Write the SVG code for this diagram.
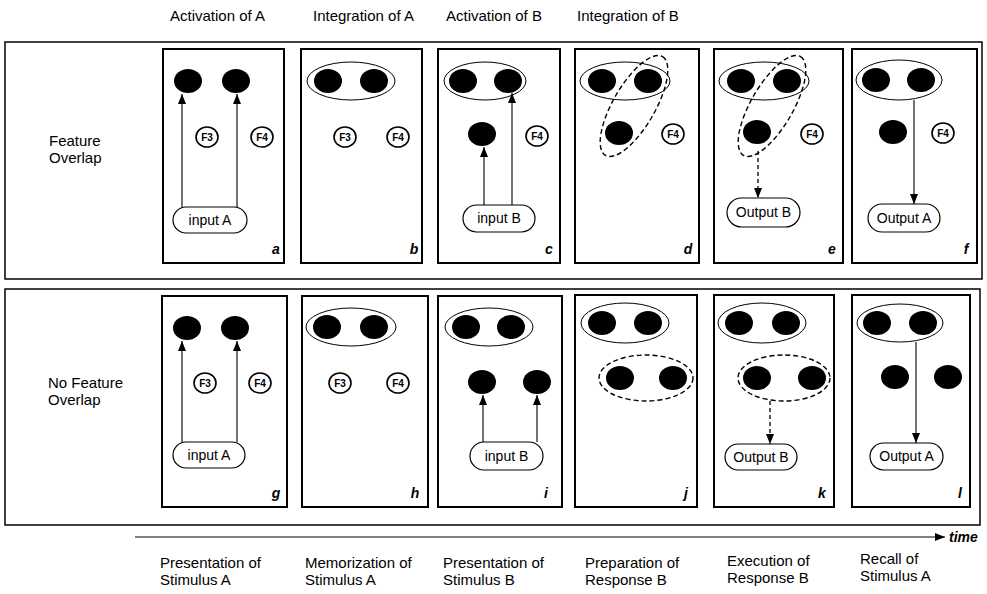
<svg xmlns="http://www.w3.org/2000/svg" width="987" height="594" viewBox="0 0 987 594">
<style>
.frame{fill:none;stroke:#000;stroke-width:1.5}
.panel{fill:#fff;stroke:#000;stroke-width:2}
.dot{fill:#000}
.grp{fill:none;stroke:#000;stroke-width:1}
.dgrp{fill:none;stroke:#000;stroke-width:1.4;stroke-dasharray:5 3}
.feat{fill:#fff;stroke:#000;stroke-width:1.6}
.ftxt{font-family:"Liberation Sans",Arial,sans-serif;font-weight:bold;font-size:10px;text-anchor:middle}
.pill{fill:#fff;stroke:#000;stroke-width:1.2}
.ptxt{font-family:"Liberation Sans",Arial,sans-serif;font-size:14px;text-anchor:middle}
.lbl{font-family:"Liberation Sans",Arial,sans-serif;font-weight:bold;font-style:italic;font-size:14px;text-anchor:middle}
.hdr{font-family:"Liberation Sans",Arial,sans-serif;font-size:15px}
.edge{fill:none;stroke:#000;stroke-width:1.1;marker-end:url(#ah)}
.dedge{fill:none;stroke:#000;stroke-width:1.3;stroke-dasharray:4 3;marker-end:url(#ah)}
</style>
<defs>
<marker id="ah" markerUnits="userSpaceOnUse" markerWidth="10" markerHeight="10" viewBox="0 0 10 10" refX="10" refY="5" orient="auto">
<path d="M0,1 L10,5 L0,9 z" fill="#000"/>
</marker>
</defs>
<rect width="987" height="594" fill="#fff"/>

<g id="headers">
<text class="hdr" x="170" y="21">Activation of A</text>
<text class="hdr" x="313" y="21">Integration of A</text>
<text class="hdr" x="446" y="21">Activation of B</text>
<text class="hdr" x="577" y="21">Integration of B</text>
</g>

<g id="frames">
<rect class="frame" x="5" y="42" width="977" height="237"/>
<rect class="frame" x="5" y="289" width="975" height="236"/>
<text class="hdr" x="49" y="146">Feature</text>
<text class="hdr" x="49" y="163">Overlap</text>
<text class="hdr" x="48" y="388">No Feature</text>
<text class="hdr" x="48" y="405">Overlap</text>
</g>

<!-- Top row -->
<g id="panel-a">
<rect class="panel" x="163" y="49" width="121" height="214"/>
<ellipse class="dot" cx="188" cy="81" rx="14" ry="12"/>
<ellipse class="dot" cx="236" cy="81" rx="14" ry="12"/>
<ellipse class="feat" cx="207" cy="137" rx="11" ry="10"/><text class="ftxt" x="207" y="141">F3</text>
<ellipse class="feat" cx="262" cy="137" rx="11" ry="10"/><text class="ftxt" x="262" y="141">F4</text>
<rect class="pill" x="173" y="207" width="74" height="26" rx="13"/><text class="ptxt" x="210" y="225">input A</text>
<text class="lbl" x="276" y="254">a</text>
</g>
<g id="panel-b">
<rect class="panel" x="301" y="49" width="121" height="214"/>
<ellipse class="grp" cx="351" cy="81" rx="44" ry="19"/>
<ellipse class="dot" cx="328" cy="81" rx="14" ry="12"/>
<ellipse class="dot" cx="374" cy="81" rx="14" ry="12"/>
<ellipse class="feat" cx="345" cy="137" rx="11" ry="10"/><text class="ftxt" x="345" y="141">F3</text>
<ellipse class="feat" cx="398" cy="137" rx="11" ry="10"/><text class="ftxt" x="398" y="141">F4</text>
<text class="lbl" x="414" y="254">b</text>
</g>
<g id="panel-c">
<rect class="panel" x="438" y="49" width="122" height="214"/>
<ellipse class="grp" cx="485" cy="81" rx="41" ry="19"/>
<ellipse class="dot" cx="463" cy="81" rx="14" ry="12"/>
<ellipse class="dot" cx="508" cy="81" rx="14" ry="12"/>
<ellipse class="dot" cx="482" cy="134" rx="14" ry="12"/>
<ellipse class="feat" cx="537" cy="136" rx="11" ry="10"/><text class="ftxt" x="537" y="140">F4</text>
<rect class="pill" x="463" y="205" width="72" height="27" rx="13.5"/><text class="ptxt" x="499" y="223">input B</text>
<text class="lbl" x="549" y="254">c</text>
</g>
<g id="panel-d">
<rect class="panel" x="575" y="49" width="124" height="214"/>
<ellipse class="grp" cx="625" cy="81" rx="45" ry="19"/>
<ellipse class="dot" cx="602" cy="81" rx="14" ry="12"/>
<ellipse class="dot" cx="648" cy="81" rx="14" ry="12"/>
<ellipse class="dot" cx="619" cy="133" rx="14" ry="12"/>
<ellipse class="dgrp" cx="634" cy="106" rx="57" ry="21" transform="rotate(-60 634 106)"/>
<ellipse class="feat" cx="673" cy="134" rx="11" ry="10"/><text class="ftxt" x="673" y="138">F4</text>
<text class="lbl" x="688" y="254">d</text>
</g>
<g id="panel-e">
<rect class="panel" x="714" y="49" width="129" height="214"/>
<ellipse class="grp" cx="764" cy="81" rx="45" ry="19"/>
<ellipse class="dot" cx="741" cy="81" rx="14" ry="12"/>
<ellipse class="dot" cx="787" cy="81" rx="14" ry="12"/>
<ellipse class="dot" cx="757" cy="132" rx="14" ry="12"/>
<ellipse class="dgrp" cx="772" cy="106" rx="57" ry="21" transform="rotate(-60 772 106)"/>
<ellipse class="feat" cx="812" cy="134" rx="11" ry="10"/><text class="ftxt" x="812" y="138">F4</text>
<rect class="pill" x="727" y="198" width="73" height="29" rx="14.5"/><text class="ptxt" x="763.5" y="217">Output B</text>
<text class="lbl" x="832" y="254">e</text>
</g>
<g id="panel-f">
<rect class="panel" x="852" y="49" width="125" height="214"/>
<ellipse class="grp" cx="899" cy="80" rx="43" ry="20"/>
<ellipse class="dot" cx="876" cy="80" rx="14" ry="12"/>
<ellipse class="dot" cx="921" cy="80" rx="14" ry="12"/>
<ellipse class="dot" cx="893" cy="132" rx="14" ry="12"/>
<ellipse class="feat" cx="943" cy="133" rx="11" ry="10"/><text class="ftxt" x="943" y="137">F4</text>
<rect class="pill" x="868" y="204" width="72" height="28" rx="14"/><text class="ptxt" x="904" y="223">Output A</text>
<text class="lbl" x="966" y="254">f</text>
</g>

<!-- Bottom row -->
<g id="panel-g">
<rect class="panel" x="162" y="296" width="125" height="211"/>
<ellipse class="dot" cx="187" cy="328" rx="14" ry="12"/>
<ellipse class="dot" cx="235" cy="328" rx="14" ry="12"/>
<ellipse class="feat" cx="205" cy="383" rx="11" ry="10"/><text class="ftxt" x="205" y="387">F3</text>
<ellipse class="feat" cx="260" cy="383" rx="11" ry="10"/><text class="ftxt" x="260" y="387">F4</text>
<rect class="pill" x="173" y="442" width="72" height="26" rx="13"/><text class="ptxt" x="209" y="460">input A</text>
<text class="lbl" x="276" y="498">g</text>
</g>
<g id="panel-h">
<rect class="panel" x="302" y="296" width="126" height="211"/>
<ellipse class="grp" cx="351" cy="327" rx="45" ry="19"/>
<ellipse class="dot" cx="327" cy="327" rx="14" ry="12"/>
<ellipse class="dot" cx="374" cy="327" rx="14" ry="12"/>
<ellipse class="feat" cx="340" cy="383" rx="11" ry="10"/><text class="ftxt" x="340" y="387">F3</text>
<ellipse class="feat" cx="398" cy="383" rx="11" ry="10"/><text class="ftxt" x="398" y="387">F4</text>
<text class="lbl" x="415" y="498">h</text>
</g>
<g id="panel-i">
<rect class="panel" x="438" y="296" width="124" height="211"/>
<ellipse class="grp" cx="489" cy="327" rx="44" ry="19"/>
<ellipse class="dot" cx="466" cy="327" rx="14" ry="12"/>
<ellipse class="dot" cx="511" cy="327" rx="14" ry="12"/>
<ellipse class="dot" cx="482" cy="382" rx="14" ry="12"/>
<ellipse class="dot" cx="537" cy="382" rx="14" ry="12"/>
<rect class="pill" x="470" y="442" width="73" height="28" rx="14"/><text class="ptxt" x="506.5" y="461">input B</text>
<text class="lbl" x="546" y="498">i</text>
</g>
<g id="panel-j">
<rect class="panel" x="575" y="295" width="122" height="212"/>
<ellipse class="grp" cx="625" cy="323" rx="44" ry="20"/>
<ellipse class="dot" cx="602" cy="323" rx="14" ry="12"/>
<ellipse class="dot" cx="648" cy="323" rx="14" ry="12"/>
<ellipse class="dgrp" cx="646" cy="378" rx="47" ry="23"/>
<ellipse class="dot" cx="620" cy="378" rx="14" ry="12"/>
<ellipse class="dot" cx="673" cy="378" rx="14" ry="12"/>
<text class="lbl" x="686" y="498">j</text>
</g>
<g id="panel-k">
<rect class="panel" x="714" y="295" width="120" height="212"/>
<ellipse class="grp" cx="762" cy="323" rx="44" ry="20"/>
<ellipse class="dot" cx="739" cy="323" rx="14" ry="12"/>
<ellipse class="dot" cx="786" cy="323" rx="14" ry="12"/>
<ellipse class="dgrp" cx="784" cy="378" rx="46" ry="23"/>
<ellipse class="dot" cx="757" cy="378" rx="14" ry="12"/>
<ellipse class="dot" cx="812" cy="378" rx="14" ry="12"/>
<rect class="pill" x="725" y="444" width="72" height="26" rx="13"/><text class="ptxt" x="761" y="462">Output B</text>
<text class="lbl" x="822" y="498">k</text>
</g>
<g id="panel-l">
<rect class="panel" x="852" y="295" width="118" height="212"/>
<ellipse class="grp" cx="900" cy="323" rx="43" ry="19"/>
<ellipse class="dot" cx="877" cy="323" rx="14" ry="12"/>
<ellipse class="dot" cx="923" cy="323" rx="14" ry="12"/>
<ellipse class="dot" cx="895" cy="377" rx="14" ry="12"/>
<ellipse class="dot" cx="948" cy="377" rx="14" ry="12"/>
<rect class="pill" x="870" y="443" width="73" height="27" rx="13.5"/><text class="ptxt" x="906.5" y="461">Output A</text>
<text class="lbl" x="960" y="498">l</text>
</g>

<g id="connectors">
<line class="edge" x1="182" y1="207" x2="182" y2="94"/>
<line class="edge" x1="237" y1="207" x2="237" y2="94"/>
<line class="edge" x1="484" y1="205" x2="484" y2="147"/>
<line class="edge" x1="512" y1="205" x2="512" y2="93"/>
<line class="dedge" x1="758" y1="151" x2="758" y2="198"/>
<line class="edge" x1="914" y1="100" x2="914" y2="204"/>
<line class="edge" x1="182" y1="442" x2="182" y2="341"/>
<line class="edge" x1="237" y1="442" x2="237" y2="341"/>
<line class="edge" x1="483" y1="442" x2="483" y2="395"/>
<line class="edge" x1="537" y1="442" x2="537" y2="395"/>
<line class="dedge" x1="770" y1="401" x2="770" y2="444"/>
<line class="edge" x1="916" y1="342" x2="916" y2="443"/>
<line class="edge" x1="135" y1="537" x2="945" y2="537"/>
</g>

<g id="time-labels">
<text x="949" y="542" font-family="Liberation Sans, Arial, sans-serif" font-size="14" font-weight="bold" font-style="italic">time</text>
<text class="hdr" x="160" y="568">Presentation of</text>
<text class="hdr" x="160" y="585">Stimulus A</text>
<text class="hdr" x="305" y="568">Memorization of</text>
<text class="hdr" x="305" y="585">Stimulus A</text>
<text class="hdr" x="443" y="568">Presentation of</text>
<text class="hdr" x="443" y="585">Stimulus B</text>
<text class="hdr" x="585" y="568">Preparation of</text>
<text class="hdr" x="585" y="585">Response B</text>
<text class="hdr" x="727" y="566">Execution of</text>
<text class="hdr" x="727" y="583">Response B</text>
<text class="hdr" x="860" y="564">Recall of</text>
<text class="hdr" x="860" y="581">Stimulus A</text>
</g>
</svg>
